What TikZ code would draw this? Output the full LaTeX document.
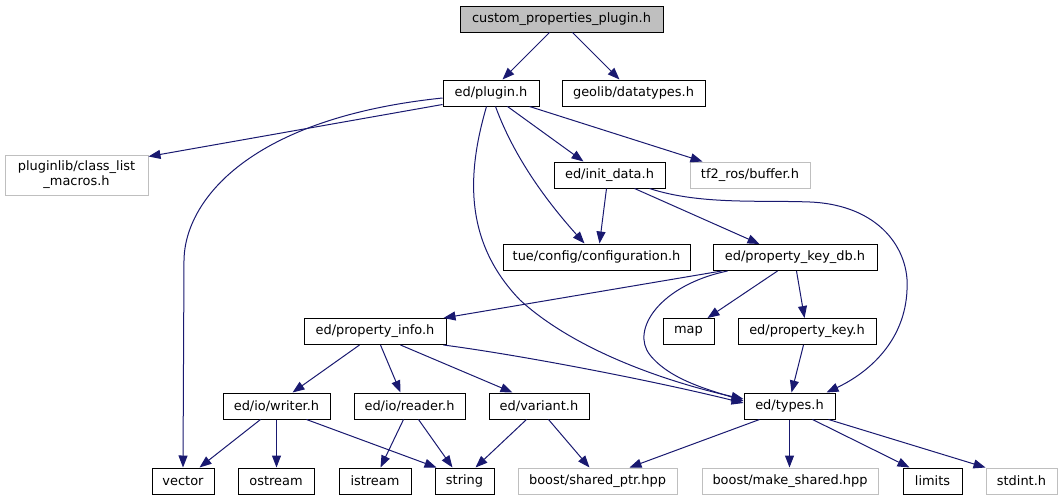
\documentclass[tikz,border=0pt]{standalone}
\usepackage{fontspec}
\setmainfont{DejaVu Sans}
\usetikzlibrary{arrows.meta,calc}
\definecolor{edgecol}{HTML}{191970}
\definecolor{gr}{HTML}{BFBFBF}
\tikzset{
  bx/.style={draw=black, line width=0.75pt, inner sep=0pt, minimum height=19.5pt,
    minimum width=#1*0.75pt, font=\fontsize{9.7}{11.25}\selectfont},
  gx/.style={bx=#1, draw=gr},
  edg/.style={draw=edgecol, line width=0.75pt, -{Triangle[length=9pt,width=6.75pt]}}
}
\begin{document}
\begin{tikzpicture}[x=0.75pt,y=-0.75pt]
\useasboundingbox (0,0) rectangle (1063,500);
% nodes
\node[bx=203, fill=gr] (cust) at (561.5,19) {custom\_properties\_plugin.h};
\node[bx=96] (plug) at (491,93) {ed/plugin.h};
\node[bx=143] (geo) at (633.5,93) {geolib/datatypes.h};
\node[gx=143, minimum height=30pt, align=center] (pll) at (76.5,175) {pluginlib/class\_list\\\_macros.h};
\node[bx=111] (init) at (609.5,175) {ed/init\_data.h};
\node[gx=120] (tf2) at (750,175) {tf2\_ros/buffer.h};
\node[bx=187] (conf) at (596.5,257) {tue/config/configuration.h};
\node[bx=164] (pkdb) at (795,257.5) {ed/property\_key\_db.h};
\node[bx=142] (pinfo) at (375,331.5) {ed/property\_info.h};
\node[bx=51] (map) at (688.5,331.5) {map};
\node[bx=138] (pkey) at (807,331.5) {ed/property\_key.h};
\node[bx=107] (writer) at (276.5,406) {ed/io/writer.h};
\node[bx=111] (reader) at (409.5,406) {ed/io/reader.h};
\node[bx=100] (variant) at (539,406) {ed/variant.h};
\node[bx=91] (types) at (789.5,406) {ed/types.h};
\node[bx=62] (vector) at (183,481) {vector};
\node[bx=76] (ostream) at (276,481) {ostream};
\node[bx=72] (istream) at (375,481) {istream};
\node[bx=59] (string) at (464.5,481) {string};
\node[gx=159] (shptr) at (597.5,481) {boost/shared\_ptr.hpp};
\node[gx=176] (mksh) at (790,481) {boost/make\_shared.hpp};
\node[bx=59] (limits) at (932.5,481) {limits};
\node[gx=71] (stdint) at (1021.5,481) {stdint.h};
% edges
\draw[edg] ($(cust.south west)+(90,0)$) -- ($(plug.north west)+(60,0)$);
\draw[edg] ($(cust.south west)+(113,0)$) -- ($(geo.north west)+(58,0)$);
\draw[edg] ($(plug.south west)+(0,-2)$) -- ($(pll.north east)+(0,2)$);
\draw[edg] ($(plug.west)+(0,5)$) .. controls (250,118) and (185,200) .. (184,260) -- (vector.north);
\draw[edg] ($(plug.south west)+(87,0)$) -- ($(tf2.north west)+(13,0)$);
\draw[edg] ($(plug.south west)+(65,0)$) -- ($(init.north west)+(30,0)$);
\draw[edg] ($(plug.south west)+(53,0)$) .. controls (515,160) and (550,205) .. ($(conf.north west)+(82,0)$);
\draw[edg] ($(plug.south west)+(44,0)$) .. controls (468,170) and (462,240) .. (520,300)
  .. controls (580,355) and (680,385) .. ($(types.west)+(0,-7)$);
\draw[edg] ($(init.south west)+(53,0)$) -- ($(conf.north west)+(97,0)$);
\draw[edg] ($(init.south west)+(81,0)$) -- ($(pkdb.north west)+(47,0)$);
\draw[edg] ($(init.south west)+(96,0)$) .. controls (700,205) and (760,200) .. (810,202)
  .. controls (880,205) and (910,250) .. (907,290)
  .. controls (905,340) and (870,372) .. ($(types.north west)+(83,0)$);
\draw[edg] ($(pkdb.south west)+(9,0)$) -- ($(pinfo.north east)+(-3,0)$);
\draw[edg] ($(pkdb.south west)+(65,0)$) -- ($(map.north east)+(-7,0)$);
\draw[edg] ($(pkdb.south west)+(84,0)$) -- ($(pkey.north west)+(67,0)$);
\draw[edg] ($(pkdb.south west)+(15,0)$) .. controls (660,285) and (630,330) .. (650,355)
  .. controls (670,380) and (710,390) .. ($(types.west)+(0,-5)$);
\draw[edg] ($(pinfo.south west)+(56,0)$) -- ($(writer.north west)+(70,0)$);
\draw[edg] ($(pinfo.south west)+(77,0)$) -- ($(reader.north west)+(47,0)$);
\draw[edg] ($(pinfo.south west)+(97,0)$) -- ($(variant.north west)+(24,0)$);
\draw[edg] ($(pinfo.south east)+(-3,0)$) .. controls (520,355) and (650,380) .. ($(types.west)+(0,-3)$);
\draw[edg] ($(pkey.south west)+(66,0)$) -- ($(types.north west)+(48,0)$);
\draw[edg] ($(writer.south west)+(38,0)$) -- ($(vector.north east)+(-15,0)$);
\draw[edg] ($(writer.south west)+(54,0)$) -- ($(ostream.north west)+(39,0)$);
\draw[edg] ($(writer.south west)+(84,0)$) -- ($(string.north west)+(2,0)$);
\draw[edg] ($(reader.south west)+(50,0)$) -- ($(istream.north west)+(42,0)$);
\draw[edg] ($(reader.south west)+(65,0)$) -- ($(string.north west)+(18,0)$);
\draw[edg] ($(variant.south west)+(38,0)$) -- ($(string.north west)+(41,0)$);
\draw[edg] ($(variant.south west)+(60,0)$) -- ($(shptr.north west)+(72,0)$);
\draw[edg] ($(types.south west)+(16,0)$) -- ($(shptr.north west)+(112,0)$);
\draw[edg] ($(types.south west)+(46,0)$) -- ($(mksh.north west)+(88,0)$);
\draw[edg] ($(types.south west)+(69,0)$) -- ($(limits.north west)+(7,0)$);
\draw[edg] ($(types.south west)+(85,0)$) -- ($(stdint.north west)+(0,0)$);
\end{tikzpicture}
\end{document}
